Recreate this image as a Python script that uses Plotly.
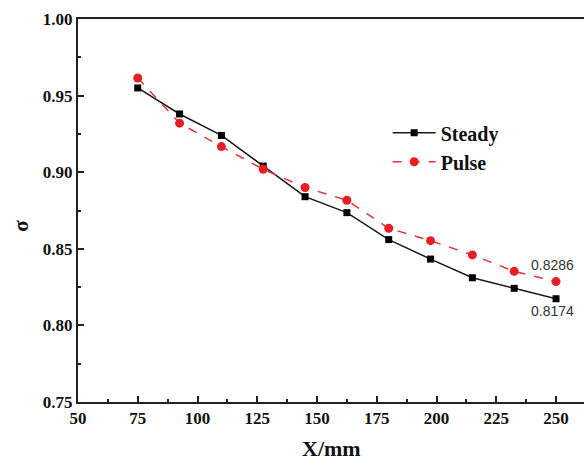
import plotly.graph_objects as go

# Axial positions (mm) and the sigma values of the two flow conditions
x_mm = [75, 92.5, 110, 127.5, 145, 162.5, 180, 197.5, 215, 232.5, 250]
sigma_steady = [0.955, 0.938, 0.924, 0.904, 0.884, 0.8736, 0.856, 0.8433, 0.8311, 0.8242, 0.8174]
sigma_pulse = [0.9615, 0.932, 0.9167, 0.9019, 0.890, 0.8817, 0.8634, 0.8553, 0.846, 0.8353, 0.8286]

x_ticks = [50, 75, 100, 125, 150, 175, 200, 225, 250]
y_ticks = [0.75, 0.80, 0.85, 0.90, 0.95, 1.00]

serif = "Liberation Serif, Times New Roman, serif"
sans = "Liberation Sans, Arial, sans-serif"

fig = go.Figure()
fig.add_trace(go.Scatter(
    x=x_mm, y=sigma_steady, name="<b>Steady</b>", mode="lines+markers",
    line=dict(color="#1a1a1a", width=1.5),
    marker=dict(symbol="square", size=7, color="#000000"),
))
fig.add_trace(go.Scatter(
    x=x_mm, y=sigma_pulse, name="<b>Pulse</b>", mode="lines+markers",
    line=dict(color="#e8323a", width=1.5, dash="dash"),
    marker=dict(symbol="circle", size=9, color="#e81e25"),
))

# End-point value labels
fig.add_annotation(x=x_mm[-1], y=sigma_pulse[-1], text=f"{sigma_pulse[-1]:.4f}",
                   showarrow=False, xanchor="left", yanchor="bottom", xshift=-27, yshift=7,
                   font=dict(family=sans, size=14, color="#333333"))
fig.add_annotation(x=x_mm[-1], y=sigma_steady[-1], text=f"{sigma_steady[-1]:.4f}",
                   showarrow=False, xanchor="left", yanchor="top", xshift=-27, yshift=-2,
                   font=dict(family=sans, size=14, color="#333333"))

# Axis titles
fig.add_annotation(xref="paper", yref="paper", x=0.5, y=-0.122, text="<b>X/mm</b>",
                   showarrow=False, xanchor="center", yanchor="middle",
                   font=dict(family=serif, size=22, color="#111111"))
fig.add_annotation(xref="paper", yref="paper", x=-0.1126, y=0.46, text="<b>σ</b>",
                   showarrow=False, xanchor="center", yanchor="middle", textangle=-90,
                   font=dict(family=serif, size=21, color="#111111"))

fig.update_layout(
    width=584, height=461,
    margin=dict(l=78, r=0, t=19, b=59),
    paper_bgcolor="white", plot_bgcolor="white",
    showlegend=True,
    legend=dict(x=0.612, y=0.754, xanchor="left", yanchor="top",
                bgcolor="rgba(0,0,0,0)",
                font=dict(family=serif, size=20, color="#111111"),
                itemwidth=43, tracegroupgap=0),
    xaxis=dict(
        range=[50, 261.7], tickvals=x_ticks, ticktext=[f"<b>{v}</b>" for v in x_ticks],
        showline=True, linecolor="#222222", linewidth=2, mirror=True,
        ticks="inside", ticklen=6, tickwidth=1.5, tickcolor="#222222",
        minor=dict(dtick=12.5, tick0=50, ticks="inside", ticklen=3, tickwidth=1.5, tickcolor="#222222"),
        showgrid=False, zeroline=False,
        tickfont=dict(family=serif, size=17, color="#111111"),
    ),
    yaxis=dict(
        range=[0.75, 1.0], tickvals=y_ticks, ticktext=[f"<b>{v:.2f}</b>" for v in y_ticks],
        showline=True, linecolor="#222222", linewidth=2, mirror=False,
        ticks="inside", ticklen=6, tickwidth=1.5, tickcolor="#222222",
        minor=dict(dtick=0.025, tick0=0.75, ticks="inside", ticklen=3, tickwidth=1.5, tickcolor="#222222"),
        showgrid=False, zeroline=False,
        tickfont=dict(family=serif, size=17, color="#111111"),
    ),
)

fig.write_html("out.html")
